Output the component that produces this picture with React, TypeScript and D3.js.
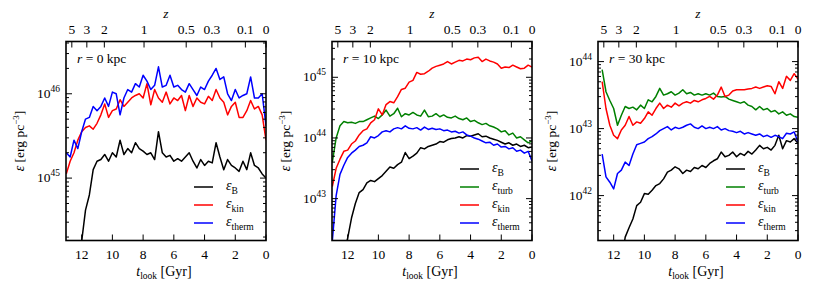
import React from "react";
import * as d3 from "d3";

// lookback time grid [Gyr]
const tLook = [
  13, 12.75, 12.5, 12.25, 12, 11.75, 11.5, 11.25, 11, 10.75, 10.5, 10.25, 10,
  9.75, 9.5, 9.25, 9, 8.75, 8.5, 8.25, 8, 7.75, 7.5, 7.25, 7, 6.75, 6.5, 6.25,
  6, 5.75, 5.5, 5.25, 5, 4.75, 4.5, 4.25, 4, 3.75, 3.5, 3.25, 3, 2.75, 2.5,
  2.25, 2, 1.75, 1.5, 1.25, 1, 0.75, 0.5, 0.25, 0,
];

// log10 energy densities, r = 0 kpc
const r0B = [
  null, null, null, 43.9, 44.25, 44.62, 44.8, 45.1, 45.2, 45.22, 45.28, 45.2,
  45.3, 45.25, 45.45, 45.28, 45.35, 45.3, 45.42, 45.35, 45.32, 45.28, 45.3,
  45.22, 45.55, 45.3, 45.25, 45.27, 45.2, 45.23, 45.2, 45.25, 45.3, 45.2,
  45.12, 45.22, 45.15, 45.2, 45.18, 45.42, 45.25, 45.1, 45.22, 45.15, 45.12,
  45.08, 45.2, 45.1, 45.3, 45.15, 45.12, 45.05, 45.0,
];
const r0Kin = [
  45.05, 45.2, 45.3, 45.45, 45.55, 45.6, 45.62, 45.58, 45.65, 45.75, 45.88,
  45.72, 45.8, 45.82, 45.93, 45.85, 45.9, 45.95, 45.98, 46.0, 45.95, 46.12,
  45.87, 46.05, 45.95, 45.9, 46.02, 45.88, 45.95, 45.92, 45.98, 45.8, 45.98,
  45.85, 45.95, 45.9, 45.88, 45.97, 45.92, 46.05, 45.95, 45.9, 45.75, 45.85,
  45.9, 45.72, 45.72, 45.8, 45.92, 45.82, 45.85, 45.75, 45.45,
];
const r0Therm = [
  45.3, 45.25, 45.45, 45.35, 45.55, 45.7, 45.72, 45.85, 45.8, 45.85, 45.95,
  45.85, 46.02, 46.0, 45.75, 45.95, 46.05, 46.02, 46.12, 46.08, 46.22, 46.15,
  46.05, 46.1, 46.32, 46.08, 46.1, 46.22, 46.08, 46.1, 46.05, 46.02, 46.12,
  46.05, 45.98, 46.08, 46.05, 46.15, 46.22, 46.3, 46.17, 46.2, 46.0, 45.92,
  46.05, 45.95, 45.98, 46.0, 46.2, 45.95, 45.95, 46.0, 45.62,
];

// r = 10 kpc
const r10B = [
  null, null, null, 42.1, 42.35, 42.68, 42.92, 43.1, 43.15, 43.26, 43.3, 43.28,
  43.33, 43.38, 43.45, 43.52, 43.5, 43.56, 43.6, 43.76, 43.66, 43.7, 43.75,
  43.84, 43.82, 43.86, 43.88, 43.9, 43.94, 43.93, 43.97, 43.99, 44.0, 44.02,
  44.0, 44.04, 44.03, 44.05, 44.07, 44.02, 44.03, 44.0, 43.98, 43.96, 43.93,
  43.9, 43.92, 43.88, 43.9, 43.86, 43.88, 43.84, 43.85,
];
const r10Turb = [
  43.6, 44.0, 44.2, 44.27, 44.25, 44.26, 44.24, 44.27, 44.27, 44.3, 44.33,
  44.36, 44.32, 44.38, 44.46, 44.36, 44.4, 44.49, 44.35, 44.4, 44.38, 44.42,
  44.38, 44.36, 44.46, 44.35, 44.36, 44.4, 44.35, 44.38, 44.34, 44.33, 44.36,
  44.32, 44.3, 44.33, 44.27, 44.29, 44.25, 44.22, 44.24, 44.2, 44.18, 44.15,
  44.1, 44.12, 44.05, 44.08, 44.0, 44.02, 43.97, 43.92, 43.95,
];
const r10Kin = [
  43.2, 43.5, 43.65, 43.78, 43.8, 43.9, 43.95, 44.05, 44.12, 44.15, 44.25,
  44.3, 44.48, 44.38, 44.55, 44.6, 44.58, 44.68, 44.8, 44.82, 44.92, 44.95,
  45.08, 45.05, 45.06, 45.1, 45.15, 45.18, 45.2, 45.22, 45.26, 45.22, 45.25,
  45.28, 45.27, 45.3, 45.29, 45.32, 45.33, 45.26, 45.3, 45.27, 45.25, 45.22,
  45.15, 45.17, 45.16, 45.2, 45.17, 45.14, 45.15, 45.2, 45.17,
];
const r10Therm = [
  42.3, 43.05, 43.4, 43.55, 43.68, 43.75, 43.8, 43.86, 43.88, 43.92, 44.02,
  44.0, 44.04, 44.1, 44.12, 44.1, 44.15, 44.17, 44.15, 44.2, 44.16, 44.15,
  44.17, 44.13, 44.18, 44.14, 44.16, 44.14, 44.15, 44.12, 44.13, 44.1, 44.11,
  44.08, 44.1, 44.05, 44.03, 44.0, 43.98, 43.95, 43.92, 43.93, 43.88, 43.9,
  43.85, 43.86, 43.82, 43.84, 43.78, 43.8, 43.75, 43.78, 43.62,
];

// r = 30 kpc
const r30B = [
  null, null, null, null, null, null, 41.0, 41.38, 41.52, 41.65, 41.85, 41.9,
  42.03, 42.02, 42.08, 42.15, 42.18, 42.25, 42.35, 42.38, 42.43, 42.4, 42.33,
  42.38, 42.36, 42.42, 42.4, 42.45, 42.42, 42.48, 42.52, 42.55, 42.65, 42.58,
  42.6, 42.65, 42.58, 42.63, 42.6, 42.66, 42.62, 42.68, 42.75, 42.7, 42.72,
  42.68, 42.75, 42.9, 42.7, 42.82, 42.8, 42.85, 42.78,
];
const r30Turb = [
  null, 43.88, 43.55, 43.42, 43.3, 43.05, 43.2, 43.33, 43.3, 43.32, 43.28,
  43.35, 43.3, 43.43, 43.4, 43.48, 43.6, 43.5, 43.52, 43.55, 43.5, 43.53,
  43.58, 43.52, 43.54, 43.5, 43.52, 43.5, 43.52, 43.5, 43.53, 43.48, 43.47,
  43.48, 43.44, 43.42, 43.4, 43.38, 43.4, 43.35, 43.33, 43.28, 43.33, 43.28,
  43.3, 43.25, 43.27, 43.22, 43.25, 43.2, 43.22, 43.18, 43.17,
];
const r30Kin = [
  null, 43.7, 43.3, 43.05, 42.9, 42.85, 42.98, 43.05, 43.18, 43.05, 43.1,
  43.08, 43.15, 43.25, 43.2, 43.3, 43.38, 43.3, 43.35, 43.32, 43.38, 43.34,
  43.38, 43.4, 43.38, 43.42, 43.4, 43.43, 43.45, 43.48, 43.44, 43.5, 43.62,
  43.48, 43.5, 43.56, 43.58, 43.58, 43.58, 43.59, 43.6, 43.62, 43.6, 43.62,
  43.64, 43.63, 43.52, 43.7, 43.6, 43.78, 43.72, 43.82, 43.74,
];
const r30Therm = [
  null, 42.62, 42.28, 42.2, 42.1, 42.33, 42.38, 42.5, 42.45, 42.62, 42.76,
  42.78, 42.8, 42.85, 42.88, 42.92, 42.97, 43.0, 43.03, 42.98, 43.02, 43.0,
  43.02, 43.05, 43.07, 43.02, 43.0, 43.04, 43.0, 43.02, 43.0, 43.03, 42.98,
  43.0, 42.97, 42.96, 42.94, 42.96, 42.92, 42.94, 42.92, 42.9, 42.92, 42.88,
  42.9, 42.87, 42.9, 42.88, 42.85, 42.93, 42.92, 42.95, 42.8,
];

const zTicks = [5, 3, 2, 1, 0.5, 0.3, 0.1, 0];
const tTicks = [12, 10, 8, 6, 4, 2, 0];

const COLORS = { B: "#000000", turb: "#008000", kin: "#ff0000", therm: "#0000ff" };

const panels = [
  { r: 0, left: 66, yLog: [44.26, 46.62],
    series: [{ key: "B", v: r0B }, { key: "kin", v: r0Kin }, { key: "therm", v: r0Therm }] },
  { r: 10, left: 332, yLog: [42.31, 45.59],
    series: [{ key: "B", v: r10B }, { key: "turb", v: r10Turb }, { key: "kin", v: r10Kin }, { key: "therm", v: r10Therm }] },
  { r: 30, left: 598, yLog: [41.33, 44.3],
    series: [{ key: "B", v: r30B }, { key: "turb", v: r30Turb }, { key: "kin", v: r30Kin }, { key: "therm", v: r30Therm }] },
];

const TOP = 41.5;
const H = 199;
const W = 200;

// lookback time for flat LCDM (Planck-like), Simpson integration
function lookback(z: number) {
  const H0 = 67.77, Om = 0.307, OL = 1 - Om;
  const tH = 977.8 / H0;
  if (z === 0) return 0;
  const n = 400;
  const h = z / n;
  const f = (x: number) => 1 / ((1 + x) * Math.sqrt(Om * Math.pow(1 + x, 3) + OL));
  let s = f(0) + f(z);
  for (let i = 1; i < n; i++) s += (i % 2 ? 4 : 2) * f(i * h);
  return (tH * s * h) / 3;
}

function Eps({ sub, x, y, size = 14 }: { sub: string; x: number; y: number; size?: number }) {
  return (
    <text x={x} y={y} fontSize={size}>
      <tspan fontStyle="italic">ε</tspan>
      <tspan fontSize={size * 0.68} dy={3.5}>{sub}</tspan>
    </text>
  );
}

function Panel({ p, idx }: { p: any; idx: number }) {
  const x = d3.scaleLinear().domain([13.02, 0]).range([p.left, p.left + W]);
  const y = d3
    .scaleLog()
    .domain([Math.pow(10, p.yLog[0]), Math.pow(10, p.yLog[1])])
    .range([TOP + H, TOP]);
  const line = d3
    .line<number | null>()
    .defined((d) => d !== null)
    .x((_, i) => x(tLook[i]))
    .y((d) => y(Math.pow(10, d as number)));
  const right = p.left + W;
  const bottom = TOP + H;
  const yTicks = y.ticks();
  const clipId = "clip" + idx;
  const legend = p.series.map((s: any) => s.key);

  return (
    <g>
      <defs>
        <clipPath id={clipId}>
          <rect x={p.left} y={TOP} width={W} height={H} />
        </clipPath>
      </defs>
      <g clipPath={`url(#${clipId})`}>
        {p.series.map((s: any) => (
          <path key={s.key} d={line(s.v) || ""} fill="none" stroke={COLORS[s.key as keyof typeof COLORS]} strokeWidth={1.5} strokeLinejoin="round" />
        ))}
      </g>

      {/* log ticks, left and right, inward */}
      {yTicks.map((t, i) => {
        const lg = Math.log10(t);
        const major = Math.abs(lg - Math.round(lg)) < 1e-6;
        const len = major ? 6 : 3;
        const yy = y(t);
        return (
          <g key={i} stroke="#000" strokeWidth={1}>
            <line x1={p.left} x2={p.left + len} y1={yy} y2={yy} />
            <line x1={right - len} x2={right} y1={yy} y2={yy} />
          </g>
        );
      })}
      {yTicks
        .filter((t) => Math.abs(Math.log10(t) - Math.round(Math.log10(t))) < 1e-6)
        .map((t) => (
          <text key={t} x={p.left - 6} y={y(t) + 4} textAnchor="end" fontSize={13.5}>
            10<tspan fontSize={9.5} dy={-6}>{Math.round(Math.log10(t))}</tspan>
          </text>
        ))}

      {/* bottom ticks */}
      {tTicks.map((t) => (
        <g key={t}>
          <line x1={x(t)} x2={x(t)} y1={bottom} y2={bottom - 6} stroke="#000" strokeWidth={1} />
          <text x={x(t)} y={bottom + 18} textAnchor="middle" fontSize={13.5}>{t}</text>
        </g>
      ))}

      {/* top redshift ticks */}
      {zTicks.map((z) => {
        const xx = x(lookback(z));
        return (
          <g key={z}>
            <line x1={xx} x2={xx} y1={TOP} y2={TOP + 6} stroke="#000" strokeWidth={1} />
            <text x={xx} y={TOP - 8} textAnchor="middle" fontSize={13.5}>{z}</text>
          </g>
        );
      })}

      <rect x={p.left} y={TOP} width={W} height={H} fill="none" stroke="#000" strokeWidth={1.6} />

      {/* axis titles */}
      <text x={p.left + W / 2} y={18} textAnchor="middle" fontSize={13.5} fontStyle="italic">z</text>
      <text x={p.left + W / 2 - 2} y={276} textAnchor="middle" fontSize={14}>
        <tspan fontStyle="italic">t</tspan>
        <tspan fontSize={9.5} dy={3}>look</tspan>
        <tspan dy={-3}> [Gyr]</tspan>
      </text>
      <text transform={`translate(${p.left - 42},${TOP + H / 2}) rotate(-90)`} textAnchor="middle" fontSize={13.5}>
        <tspan fontStyle="italic" fontSize={14}>ε</tspan>
        <tspan> [erg pc</tspan>
        <tspan fontSize={9} dy={-5}>−3</tspan>
        <tspan dy={5}>]</tspan>
      </text>

      <text x={p.left + 11} y={TOP + 21} fontSize={13.5}>
        <tspan fontStyle="italic">r</tspan> = {p.r} kpc
      </text>

      {/* legend */}
      {legend.map((k: string, i: number) => {
        const yy = 223 - (legend.length - 1 - i) * 18;
        return (
          <g key={k}>
            <line x1={right - 72} x2={right - 53} y1={yy} y2={yy} stroke={COLORS[k as keyof typeof COLORS]} strokeWidth={1.5} />
            <Eps sub={k} x={right - 40} y={yy + 3} />
          </g>
        );
      })}
    </g>
  );
}

export default function App() {
  return (
    <div style={{ position: "absolute", left: 0, top: 0 }}>
      <svg
        width={830}
        height={291}
        style={{ display: "block", background: "#fff", fontFamily: "Liberation Serif, DejaVu Serif, serif" }}
      >
        {panels.map((p, i) => (
          <Panel key={p.r} p={p} idx={i} />
        ))}
      </svg>
    </div>
  );
}
